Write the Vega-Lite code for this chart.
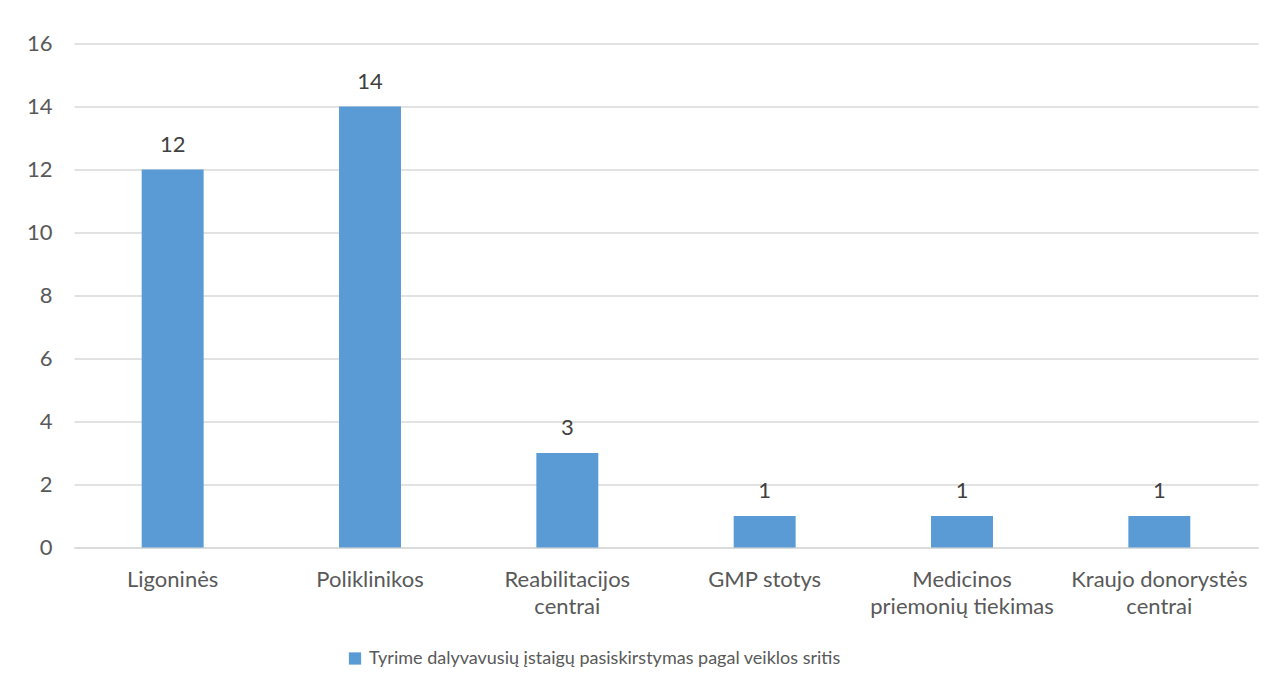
{
  "$schema": "https://vega.github.io/schema/vega-lite/v6.json",
  "width": 1184,
  "height": 504,
  "autosize": {"type": "none"},
  "padding": {"left": 74, "top": 43.5, "right": 16, "bottom": 143},
  "background": "white",
  "config": {
    "font": "Lato",
    "view": {"stroke": null},
    "axis": {"labelFont": "Lato", "labelColor": "#595959", "labelFontSize": 22, "ticks": false, "title": null}
  },
  "data": {
    "values": [
      {"sritis": "Ligoninės", "skaicius": 12, "serija": "Tyrime dalyvavusių įstaigų pasiskirstymas pagal veiklos sritis"},
      {"sritis": "Poliklinikos", "skaicius": 14, "serija": "Tyrime dalyvavusių įstaigų pasiskirstymas pagal veiklos sritis"},
      {"sritis": "Reabilitacijos centrai", "skaicius": 3, "serija": "Tyrime dalyvavusių įstaigų pasiskirstymas pagal veiklos sritis"},
      {"sritis": "GMP stotys", "skaicius": 1, "serija": "Tyrime dalyvavusių įstaigų pasiskirstymas pagal veiklos sritis"},
      {"sritis": "Medicinos priemonių tiekimas", "skaicius": 1, "serija": "Tyrime dalyvavusių įstaigų pasiskirstymas pagal veiklos sritis"},
      {"sritis": "Kraujo donorystės centrai", "skaicius": 1, "serija": "Tyrime dalyvavusių įstaigų pasiskirstymas pagal veiklos sritis"}
    ]
  },
  "encoding": {
    "x": {
      "field": "sritis",
      "type": "nominal",
      "sort": null,
      "scale": {"paddingInner": 0.686, "paddingOuter": 0.343},
      "axis": {
        "labelAngle": 0,
        "domainColor": "#d9d9d9",
        "domainWidth": 1.3,
        "labelPadding": 39,
        "labelBaseline": "alphabetic",
        "labelLineHeight": 27,
        "labelLimit": 240,
        "labelExpr": "{'Reabilitacijos centrai': ['Reabilitacijos', 'centrai'], 'Medicinos priemonių tiekimas': ['Medicinos', 'priemonių tiekimas'], 'Kraujo donorystės centrai': ['Kraujo donorystės', 'centrai']}[datum.label] || datum.label"
      }
    },
    "y": {
      "field": "skaicius",
      "type": "quantitative",
      "scale": {"domain": [0, 16]},
      "axis": {
        "values": [0, 2, 4, 6, 8, 10, 12, 14, 16],
        "domain": false,
        "gridColor": "#d9d9d9",
        "gridWidth": 1.3,
        "labelPadding": 22
      }
    }
  },
  "layer": [
    {
      "mark": {"type": "bar", "color": "#5b9bd5"},
      "encoding": {
        "color": {
          "field": "serija",
          "type": "nominal",
          "scale": {"range": ["#5b9bd5"]},
          "legend": {
            "title": null,
            "orient": "none",
            "legendX": 272,
            "legendY": 606,
            "symbolType": "square",
            "symbolSize": 150,
            "symbolStrokeWidth": 0,
            "labelFont": "Lato",
            "labelFontSize": 18,
            "labelColor": "#595959",
            "labelLimit": 800,
            "labelOffset": 5
          }
        }
      }
    },
    {
      "mark": {"type": "text", "baseline": "alphabetic", "dy": -18, "font": "Lato", "fontSize": 22, "color": "#404040"},
      "encoding": {"text": {"field": "skaicius", "type": "quantitative"}}
    }
  ]
}
